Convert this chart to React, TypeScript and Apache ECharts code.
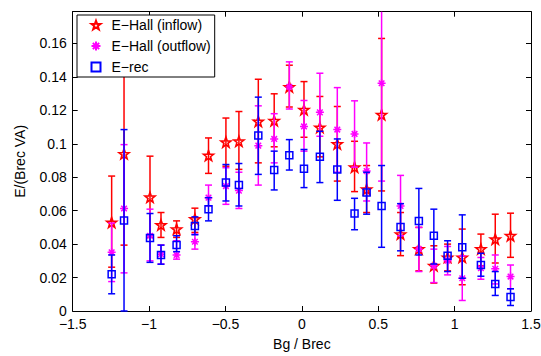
import React, { useEffect, useRef } from "react";
import * as echarts from "echarts";

const xs = [-1.245, -1.164, -0.994, -0.922, -0.82, -0.7, -0.611, -0.497, -0.412, -0.285, -0.181, -0.082, 0.014, 0.118, 0.232, 0.345, 0.424, 0.522, 0.646, 0.766, 0.864, 0.954, 1.05, 1.172, 1.266, 1.366];

const inflowVal = [0.053, 0.094, 0.068, 0.0515, 0.049, 0.055, 0.093, 0.101, 0.1015, 0.1134, 0.1138, 0.134, 0.1204, 0.1098, 0.0999, 0.086, 0.0728, 0.1174, 0.046, 0.0371, 0.0271, 0.0321, 0.0321, 0.0371, 0.043, 0.045];
const inflowHi = [0.0807, 0.1486, 0.0926, 0.0589, 0.0539, 0.0615, 0.1035, 0.1154, 0.1193, 0.1386, 0.1299, 0.147, 0.1372, 0.1283, 0.1223, 0.1015, 0.087, 0.163, 0.0589, 0.05, 0.039, 0.04, 0.049, 0.046, 0.0579, 0.0585];
const inflowLo = [0.0262, 0.0394, 0.044, 0.044, 0.044, 0.047, 0.0823, 0.0866, 0.0847, 0.0886, 0.0982, 0.122, 0.1039, 0.0922, 0.0777, 0.0714, 0.0589, 0.0718, 0.0331, 0.024, 0.0167, 0.024, 0.0157, 0.0271, 0.0287, 0.0321];

const outflowVal = [0.0351, 0.0613, 0.045, 0.034, 0.0335, 0.0414, 0.0678, 0.0747, 0.072, 0.0989, 0.1029, 0.134, 0.1104, 0.1188, 0.1085, 0.1059, 0.0837, 0.1362, 0.0628, 0.037, 0.027, 0.0301, 0.0196, 0.0256, 0.0252, 0.0206];
const outflowHi = [0.0526, 0.0995, 0.0609, 0.0395, 0.042, 0.046, 0.0753, 0.0857, 0.083, 0.1227, 0.118, 0.149, 0.1259, 0.1422, 0.1336, 0.1257, 0.1005, 0.1947, 0.0811, 0.05, 0.037, 0.0386, 0.033, 0.032, 0.0335, 0.0275];
const outflowLo = [0.0176, 0.0228, 0.03, 0.0281, 0.031, 0.037, 0.0628, 0.0638, 0.0613, 0.0753, 0.0886, 0.1208, 0.0956, 0.1045, 0.083, 0.086, 0.0658, 0.0777, 0.045, 0.0236, 0.017, 0.0216, 0.0063, 0.019, 0.0162, 0.0133];

const recVal = [0.022, 0.0541, 0.0436, 0.0335, 0.0394, 0.0509, 0.0609, 0.0768, 0.0753, 0.1049, 0.0843, 0.0932, 0.0851, 0.0922, 0.0847, 0.0583, 0.0708, 0.0628, 0.0503, 0.0539, 0.045, 0.0331, 0.0381, 0.0275, 0.0162, 0.0083];
const recHi = [0.0335, 0.1085, 0.0583, 0.0394, 0.045, 0.0563, 0.0678, 0.0876, 0.0882, 0.1279, 0.0956, 0.1025, 0.0966, 0.1075, 0.1029, 0.0674, 0.083, 0.087, 0.0642, 0.0733, 0.0609, 0.042, 0.0575, 0.0345, 0.0236, 0.0133];
const recLo = [0.0103, 0, 0.0291, 0.028, 0.0355, 0.0456, 0.0539, 0.0658, 0.0628, 0.0817, 0.0724, 0.0843, 0.0738, 0.0768, 0.0662, 0.0486, 0.0579, 0.0381, 0.036, 0.0335, 0.0281, 0.0236, 0.0196, 0.0208, 0.0093, 0.0033];

const seriesNames = ["E\u2212Hall (inflow)", "E\u2212Hall (outflow)", "E\u2212rec"];
const xTicks = { min: -1.5, max: 1.5, interval: 0.5 };
const yTicks = { min: 0, max: 0.179, interval: 0.02 };

const STAR = "path://M0,-10L2.35,-3.24L9.51,-3.09L3.8,1.24L5.88,8.09L0,4L-5.88,8.09L-3.8,1.24L-9.51,-3.09L-2.35,-3.24Z";
const ASTER = "path://M0,-5L0,5M-5,0L5,0M-3.5,-3.5L3.5,3.5M-3.5,3.5L3.5,-3.5";

const FONT = "Liberation Sans";

function errorSeries(color: string, lo: number[], hi: number[], z: number) {
  return {
    type: "custom",
    name: "err" + color,
    z,
    silent: true,
    data: xs.map((x, i) => [x, lo[i], hi[i]]),
    encode: { x: 0, y: [1, 2] },
    renderItem: (params: any, api: any) => {
      const x = api.value(0);
      const l = Math.max(api.value(1), yTicks.min);
      const hRaw = api.value(2);
      const h = Math.min(hRaw, yTicks.max);
      const pL = api.coord([x, l]);
      const pH = api.coord([x, h]);
      const hw = 3.5;
      const style = { stroke: color, lineWidth: 1.5 };
      const children: any[] = [
        { type: "line", shape: { x1: pL[0], y1: pL[1], x2: pH[0], y2: pH[1] }, style },
      ];
      if (api.value(1) >= yTicks.min) {
        children.push({ type: "line", shape: { x1: pL[0] - hw, y1: pL[1], x2: pL[0] + hw, y2: pL[1] }, style });
      }
      if (hRaw <= yTicks.max) {
        children.push({ type: "line", shape: { x1: pH[0] - hw, y1: pH[1], x2: pH[0] + hw, y2: pH[1] }, style });
      }
      return { type: "group", children };
    },
  };
}

function markerSeries(name: string, color: string, vals: number[], symbol: string, size: number, bw: number, z: number) {
  return {
    type: "scatter",
    name,
    z,
    symbol,
    symbolSize: size,
    data: xs.map((x, i) => [x, vals[i]]),
    itemStyle: { color: "none", borderColor: color, borderWidth: bw, opacity: 1 },
  };
}

export default function App() {
  const ref = useRef<HTMLDivElement>(null);
  useEffect(() => {
    document.documentElement.style.overflow = "hidden";
    document.body.style.overflow = "hidden";
    document.body.style.margin = "0";
    if (!ref.current) return;
    const chart = echarts.init(ref.current, undefined, { renderer: "svg" });
    const axisCommon = {
      axisLine: { show: true, onZero: false, lineStyle: { color: "#000", width: 1 } },
      axisTick: { show: true, inside: true, length: 5, lineStyle: { color: "#000" } },
      splitLine: { show: false },
    };
    const fmtNum = (v: number) => {
      const s = String(parseFloat(Math.abs(v).toFixed(3)));
      return v < 0 ? "\u2212" + s : s;
    };
    chart.setOption({
      animation: false,
      backgroundColor: "#fff",
      textStyle: { fontFamily: FONT },
      grid: { left: 72.7, right: 29, top: 11.7, bottom: 43.7 },
      xAxis: [
        {
          type: "value",
          ...xTicks,
          ...axisCommon,
          name: "Bg / Brec",
          nameLocation: "middle",
          nameGap: 26,
          nameTextStyle: { fontSize: 14, color: "#000", fontFamily: FONT },
          axisLabel: {
            fontSize: 14,
            color: "#000",
            fontFamily: FONT,
            margin: 6,
            showMinLabel: true,
            showMaxLabel: true,
            hideOverlap: false,
            formatter: (v: number) => fmtNum(v),
          },
        },
        {
          type: "value",
          position: "top",
          ...xTicks,
          ...axisCommon,
          axisLabel: { show: false },
        },
      ],
      yAxis: [
        {
          type: "value",
          ...yTicks,
          ...axisCommon,
          name: "E/(Brec VA)",
          nameLocation: "middle",
          nameGap: 46,
          nameTextStyle: { fontSize: 14, color: "#000", fontFamily: FONT },
          axisLabel: {
            fontSize: 14,
            color: "#000",
            fontFamily: FONT,
            margin: 6,
            showMinLabel: true,
            showMaxLabel: false,
            formatter: (v: number) => {
              const k = v / yTicks.interval;
              if (Math.abs(k - Math.round(k)) > 1e-6) return "";
              return fmtNum(v);
            },
          },
        },
        {
          type: "value",
          position: "right",
          ...yTicks,
          ...axisCommon,
          axisLabel: { show: false },
        },
      ],
      legend: {
        data: seriesNames,
        orient: "vertical",
        left: 77,
        top: 15,
        backgroundColor: "#fff",
        borderColor: "#000",
        borderWidth: 1,
        borderRadius: 0,
        padding: [3, 4, 3, 12],
        itemWidth: 9,
        itemHeight: 9,
        itemGap: 7,
        textStyle: { fontSize: 14, color: "#000", fontFamily: FONT, padding: [0, 0, 0, 6] },
        z: 20,
      },
      series: [
        errorSeries("#ff0000", inflowLo, inflowHi, 2),
        markerSeries(seriesNames[0], "#ff0000", inflowVal, STAR, 10, 1.6, 3),
        errorSeries("#ff00ff", outflowLo, outflowHi, 4),
        markerSeries(seriesNames[1], "#ff00ff", outflowVal, ASTER, 8, 1.5, 5),
        errorSeries("#0000ff", recLo, recHi, 6),
        markerSeries(seriesNames[2], "#0000ff", recVal, "rect", 7, 1.5, 7),
      ],
    });
    return () => chart.dispose();
  }, []);
  return <div ref={ref} style={{ width: 560, height: 356 }} />;
}
